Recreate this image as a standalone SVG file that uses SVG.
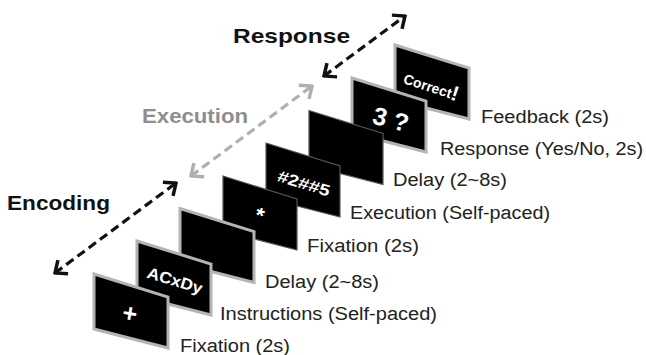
<svg xmlns="http://www.w3.org/2000/svg" width="646" height="355" viewBox="0 0 646 355">
  <style>
    .scr { fill: #000; stroke: #b4b4b4; stroke-width: 3; stroke-linejoin: miter; }
    .scr2 { fill: #000; stroke: #555; stroke-width: 1.2; }
    .st { fill: #fff; font-family: "Liberation Sans", Arial, sans-serif; font-weight: bold; text-anchor: middle; }
    .lbl { fill: #222; font-family: "Liberation Sans", Arial, sans-serif; font-size: 18px; }
    .phase { font-family: "Liberation Sans", Arial, sans-serif; font-size: 21px; font-weight: bold; }
    .dk { fill: none; stroke: #111; stroke-width: 3.2; stroke-dasharray: 9 5; }
    .gr { fill: none; stroke: #b0b0b0; stroke-width: 3.2; stroke-dasharray: 9 5; }
  </style>
  <defs>
    <polygon id="shape" points="0,0 74,23 74,74 0,55"/>
    <marker id="ahk" viewBox="-14 -11 16 22" markerWidth="16" markerHeight="22" refX="0" refY="0" orient="auto-start-reverse" markerUnits="userSpaceOnUse">
      <path d="M-10,-8.5 L0,0 L-10,8.5" fill="none" stroke="#111" stroke-width="3.5"/>
    </marker>
    <marker id="ahg" viewBox="-14 -11 16 22" markerWidth="16" markerHeight="22" refX="0" refY="0" orient="auto-start-reverse" markerUnits="userSpaceOnUse">
      <path d="M-10,-8.5 L0,0 L-10,8.5" fill="none" stroke="#b0b0b0" stroke-width="3.5"/>
    </marker>
  </defs>
  <rect width="646" height="355" fill="#fff"/>

  <g id="connectors">
    <line class="dk" x1="55" y1="273" x2="176" y2="183" marker-start="url(#ahk)" marker-end="url(#ahk)"/>
    <line class="gr" x1="191" y1="176" x2="312" y2="86" marker-start="url(#ahg)" marker-end="url(#ahg)"/>
    <line class="dk" x1="324" y1="76" x2="405" y2="16" marker-start="url(#ahk)" marker-end="url(#ahk)"/>
  </g>

  <g id="phase-labels">
    <text class="phase" x="7" y="210" fill="#111" textLength="103" lengthAdjust="spacingAndGlyphs">Encoding</text>
    <text class="phase" x="142" y="123" fill="#8e8e8e" textLength="106" lengthAdjust="spacingAndGlyphs">Execution</text>
    <text class="phase" x="233" y="43" fill="#111" textLength="117" lengthAdjust="spacingAndGlyphs">Response</text>
  </g>

  <g id="screen-feedback" transform="translate(395,45)">
    <use href="#shape" class="scr"/>
    <text class="st" transform="translate(36,42) rotate(18)" y="5"><tspan font-size="14">Correct</tspan><tspan font-size="21" dy="1">!</tspan></text>
  </g>
  <g id="screen-response" transform="translate(352,78)">
    <use href="#shape" class="scr"/>
    <text class="st" font-size="25" transform="translate(39,41) rotate(14)" y="9">3 ?</text>
  </g>
  <g id="screen-delay2" transform="translate(309,110.5)">
    <use href="#shape" class="scr2"/>
  </g>
  <g id="screen-execution" transform="translate(266,143)">
    <use href="#shape" class="scr2"/>
    <text class="st" font-size="16" transform="translate(38,40) rotate(17)" y="6" textLength="54" lengthAdjust="spacingAndGlyphs">#2##5</text>
  </g>
  <g id="screen-fixation2" transform="translate(223,176)">
    <use href="#shape" class="scr2"/>
    <text class="st" font-size="22" transform="translate(37,38) rotate(17)" y="9">*</text>
  </g>
  <g id="screen-delay1" transform="translate(180,208.5)">
    <use href="#shape" class="scr"/>
  </g>
  <g id="screen-instructions" transform="translate(137,241)">
    <use href="#shape" class="scr"/>
    <text class="st" font-size="16" transform="translate(38,39) rotate(17)" y="6" textLength="57" lengthAdjust="spacingAndGlyphs">ACxDy</text>
  </g>
  <g id="screen-fixation1" transform="translate(94,274)">
    <use href="#shape" class="scr"/>
    <text class="st" font-size="25" transform="translate(36,39) rotate(10)" y="9">+</text>
  </g>

  <g id="labels">
    <text class="lbl" x="180" y="352" textLength="110" lengthAdjust="spacingAndGlyphs">Fixation (2s)</text>
    <text class="lbl" x="220" y="320" textLength="217" lengthAdjust="spacingAndGlyphs">Instructions (Self-paced)</text>
    <text class="lbl" x="265" y="288" textLength="114" lengthAdjust="spacingAndGlyphs">Delay (2~8s)</text>
    <text class="lbl" x="307" y="252" textLength="112" lengthAdjust="spacingAndGlyphs">Fixation (2s)</text>
    <text class="lbl" x="350" y="219" textLength="200" lengthAdjust="spacingAndGlyphs">Execution (Self-paced)</text>
    <text class="lbl" x="393" y="186" textLength="114" lengthAdjust="spacingAndGlyphs">Delay (2~8s)</text>
    <text class="lbl" x="440" y="155" textLength="203" lengthAdjust="spacingAndGlyphs">Response (Yes/No, 2s)</text>
    <text class="lbl" x="481" y="123" textLength="128" lengthAdjust="spacingAndGlyphs">Feedback (2s)</text>
  </g>
</svg>
